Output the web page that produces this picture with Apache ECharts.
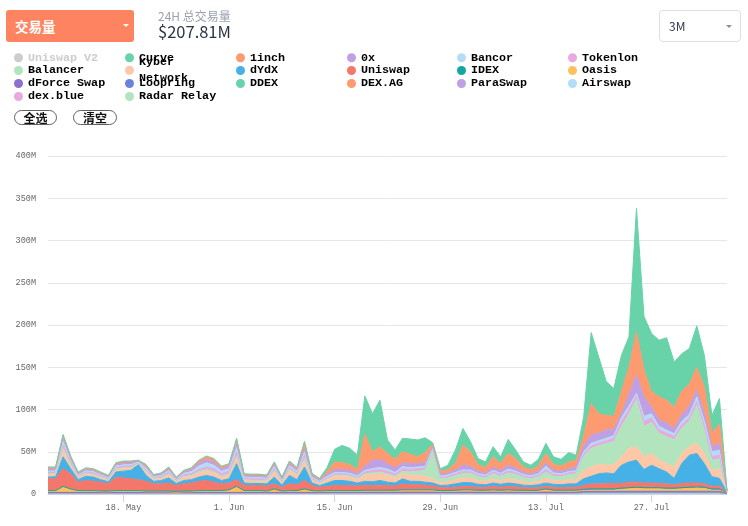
<!DOCTYPE html>
<html>
<head>
<meta charset="utf-8">
<script src="https://cdn.jsdelivr.net/npm/echarts@6/dist/echarts.min.js"></script>
<style>
  html, body { margin:0; padding:0; background:#fff; }
  #wrap { position:relative; width:748px; height:526px; overflow:hidden; font-family:"Noto Sans CJK SC","Noto Sans",sans-serif; }
  #chart { position:absolute; left:0; top:0; width:748px; height:526px; }
  .abs { position:absolute; }
  #volBtn { left:6px; top:10px; width:128px; height:32px; background:#fe8461; border-radius:3px; color:#fff; font-size:13.5px; font-weight:bold; line-height:32px; box-sizing:border-box; padding-left:9px; }
  #volBtn .caret { position:absolute; left:117px; top:14px; width:0; height:0; border-left:3px solid transparent; border-right:3px solid transparent; border-top:3px solid #fff; }
  #sub { left:158px; top:9px; font-size:12px; color:#9ba1af; line-height:14px; }
  #total { left:158px; top:22px; font-size:16.5px; color:#2c3345; line-height:18px; }
  #sel { left:659px; top:10px; width:82px; height:32px; border:1px solid #dcdfe6; border-radius:4px; box-sizing:border-box; }
  #sel .t { position:absolute; left:9px; top:0; line-height:30px; font-size:12px; color:#333a4d; }
  #sel .caret { position:absolute; left:66px; top:14px; width:0; height:0; border-left:3px solid transparent; border-right:3px solid transparent; border-top:3px solid #8a8f99; }
  .pill { top:110px; height:15px; border:1px solid #5a5f6a; border-radius:8px; box-sizing:border-box; font-size:12px; font-weight:bold; line-height:13px; text-align:center; color:#111; }
  #log { position:absolute; left:300px; top:200px; font-size:11px; color:red; }
</style>
</head>
<body>
<div id="wrap">
  <div id="chart"></div>
  <div id="volBtn" class="abs">交易量<span class="caret"></span></div>
  <div id="sub" class="abs">24H 总交易量</div>
  <div id="total" class="abs">$207.81M</div>
  <div id="sel" class="abs"><span class="t">3M</span><span class="caret"></span></div>
  <div class="abs pill" style="left:14px;width:43px;">全选</div>
  <div class="abs pill" style="left:73px;width:44px;">清空</div>
  <pre id="log"></pre>
</div>
<script>
// ---------- data ----------
const startDay = Date.UTC(2020, 4, 8);   // 8 May 2020, one point per day
const dayCount = 91;
const tickDates = ['2020-05-18', '2020-06-01', '2020-06-15', '2020-06-29', '2020-07-13', '2020-07-27'];
const yTickLabels = ['0', '50M', '100M', '150M', '200M', '250M', '300M', '350M', '400M'];

const seriesNames = ['Uniswap V2', 'Curve', '1inch', '0x', 'Bancor', 'Tokenlon', 'Balancer', 'Kyber Network', 'dYdX', 'Uniswap',
  'IDEX', 'Oasis', 'dForce Swap', 'Loopring', 'DDEX', 'DEX.AG', 'ParaSwap', 'Airswap', 'dex.blue', 'Radar Relay'];

// values in millions USD
const uniswapV2 = [];
const curve = [1, 1, 1.5, 1, 0.7, 0.7, 0.7, 0.7, 0.6, 0.7,
  0.8, 0.7, 0.4, 1, 0.5, 0.6, 0.8, 0.6, 0.6, 0.7,
  1, 1, 1, 0.8, 0.8, 1.5, 0.7, 0.7, 0.7, 0.7,
  1, 0.7, 1, 0.9, 1.5, 1, 0.9, 5, 15, 20.5,
  19, 17, 45, 45, 55, 16, 11, 16, 18, 20,
  17.5, 1.6, 3, 5, 16, 19.6, 12, 7, 7, 12,
  8, 16.6, 10, 6, 5.5, 8, 12, 9, 8, 11,
  6, 22, 84, 67, 40, 33, 43, 36, 146, 63,
  69, 67, 74, 53.5, 44, 42, 49, 37, 21, 30,
  0.3];
const oneInch = [1.5, 1.5, 3, 2, 1.3, 1.3, 1.3, 1.3, 0.9, 1.3,
  1.5, 1.5, 0.6, 1.5, 0.9, 1.1, 1.4, 0.9, 1.1, 1.5,
  2.5, 3, 3, 2.2, 2.2, 4.5, 1.5, 1.5, 1.5, 1.3,
  2, 1.3, 2, 1.6, 7, 1.9, 1.3, 3, 9, 8,
  7, 4.5, 38, 10, 15, 12, 10, 13, 11, 8,
  12, 3, 3.5, 4, 7.5, 24, 17, 8, 6, 12,
  8, 14, 11, 6, 4.5, 6, 11, 7, 6, 8,
  8, 12, 37, 23, 17, 15, 26, 32, 51, 32,
  18, 27, 27, 25, 28, 26, 27, 32, 16, 23,
  0.3];
const zeroX = [2.5, 2.3, 4, 2, 1.5, 1.5, 1.5, 1.5, 1.3, 2,
  2.2, 2, 1, 2, 1.3, 1.5, 2, 1.2, 1.8, 2.3,
  3.5, 4, 4, 3, 3, 5, 1.8, 1.8, 1.8, 1.8,
  2.5, 1.5, 2.5, 2, 4, 1.8, 1.3, 2.5, 3.5, 3.5,
  3.5, 3, 5, 10, 9.5, 6.5, 5.5, 4.5, 5, 4,
  4.5, 1.5, 2.5, 2.5, 3, 5.5, 4.5, 3, 2.5, 4,
  3.5, 4.5, 4, 3, 2.5, 3, 4, 3, 3, 3.5,
  4.5, 7, 10, 9, 10, 8, 5, 14, 22, 23,
  8, 8, 8.5, 6, 8, 10, 8, 9, 6, 8,
  0.2];
const bancor = [1, 1.2, 4, 2, 1, 1.5, 1.5, 1, 0.9, 1.5,
  1.5, 1.5, 0.7, 1.5, 1, 1.3, 1.8, 1, 1.7, 2.5,
  4, 5, 4, 3, 3, 5, 1.5, 1.5, 1.5, 1.4,
  2.5, 1.2, 2, 2, 4, 1.2, 1, 1.5, 1.5, 1.5,
  1.5, 1.5, 2, 2, 2.5, 2.5, 2, 2.5, 2, 2,
  2, 1, 1.5, 1.5, 1.5, 1.5, 1.5, 1.5, 1.5, 1.5,
  1.5, 2, 1.5, 1.5, 1.5, 2, 4, 2, 1.5, 1.5,
  1.5, 2.5, 3, 3, 3, 3, 4, 4, 3, 6,
  5, 4, 3.5, 3.5, 4, 4, 5, 6, 6, 6,
  0.2];
const tokenlon = [2, 1.7, 4, 3, 1.5, 1.5, 1.5, 1.5, 1.3, 1.8,
  2, 1.8, 1, 2.2, 1.3, 1.5, 2.2, 1.3, 2, 2,
  2.5, 3, 3.5, 3, 3, 5, 1.5, 1.5, 1.5, 1.3,
  2.5, 1.3, 2, 1.7, 4, 1.5, 1, 1.5, 1.5, 1.5,
  1.5, 1.5, 2, 3, 3, 3, 2.5, 3, 3, 3,
  2.5, 1.5, 1.5, 2, 2, 2.5, 2.5, 2, 2, 2.5,
  2, 2.5, 2.5, 2, 2, 2, 3, 2, 2, 2,
  2, 2.5, 3, 3, 3, 4, 6, 5, 4, 6,
  5, 4, 4, 4, 4, 4, 5, 4, 4, 4,
  0.2];
const balancer = [1, 0.8, 2, 1, 0.5, 0.5, 0.5, 0.5, 0.5, 0.7,
  0.5, 0.5, 0.3, 0.8, 0.5, 0.5, 0.8, 0.5, 0.8, 1,
  1.5, 2, 1.5, 1, 1, 2, 1, 1, 1, 1,
  1.5, 1, 1.5, 1.3, 2, 1, 1, 1, 1.5, 1.5,
  1.5, 1.5, 2, 2, 2, 2, 2, 3, 4, 5,
  7, 34, 4.5, 4.5, 5, 5.5, 5.5, 4.5, 4, 6,
  5, 6.5, 6, 5, 4.5, 5, 7, 5, 5, 6,
  7, 17, 22, 22, 26, 27, 36, 41, 56, 36,
  37, 32, 32, 32, 30, 30, 45, 28, 12, 12,
  0.5];
const kyberNetwork = [3, 3, 8, 4, 2.5, 3, 3, 2.5, 2, 3,
  3.5, 3, 1, 4, 2.5, 2.5, 4, 2, 4, 4,
  5, 5, 5, 4, 5, 7, 3, 3, 3, 3,
  6, 2.5, 6, 5, 8, 3, 2, 4, 5, 5,
  5, 4, 7, 8.5, 8, 8, 6, 6, 7, 7,
  7, 5, 3.5, 4, 5, 5.5, 5.5, 4.5, 4, 5,
  4.5, 5.5, 5, 4, 3.5, 4, 6, 4.5, 4.5, 5,
  5, 10, 11, 11, 9, 11, 10, 16, 16, 15,
  14, 10, 10, 13.5, 12, 10, 12, 12, 7.5, 11.5,
  0.5];
const dydx = [2, 2.5, 14, 6, 3, 5, 5, 3, 2.5, 6,
  8, 10, 18, 7, 3, 4, 6, 2.5, 4, 4,
  5, 6, 6, 4, 5, 19, 3, 2.5, 2.5, 2.5,
  8, 2.5, 10, 6, 16, 3, 2, 4, 6, 6,
  5, 3.5, 4.5, 4.5, 5.5, 4, 3.5, 6, 4, 4,
  3.5, 3.5, 2.5, 3, 4, 4.5, 4.5, 3.5, 3, 4,
  3.5, 4, 3.5, 3, 3, 3.5, 4, 3.5, 3.5, 4,
  4, 8, 9, 12, 12.5, 11.5, 21.5, 24, 26, 16,
  21, 17.5, 14, 7.5, 23.5, 33, 35, 24, 11.5, 9,
  0.5];
const uniswap = [14, 14, 21, 18, 10, 12, 11, 10.5, 8.5, 16,
  15, 14, 13, 11.5, 8.5, 8.5, 9.5, 7, 8.5, 9.5,
  11, 12, 10, 8, 8, 8, 6, 6, 6, 6,
  6, 4.5, 8, 7, 10, 6, 4.5, 5, 6, 6,
  6, 5.5, 6, 5.5, 6, 5.5, 5, 7, 6, 6,
  5.5, 4.5, 3.5, 3.5, 3.5, 4, 4, 3.5, 3.5, 4,
  3.5, 4, 4, 3, 3, 3, 3, 3.5, 3, 3.5,
  3.5, 4.5, 6, 6, 6.5, 6.5, 5.5, 6.5, 6, 5.5,
  5.5, 5, 5, 4, 5, 5, 4.5, 4, 3, 3.5,
  0.5];
const idex = [0.8, 0.8, 0.8, 0.8, 0.8, 0.8, 0.8, 0.8, 0.8, 0.8,
  0.8, 0.8, 0.8, 0.8, 0.8, 0.8, 0.8, 0.8, 0.8, 0.8,
  0.8, 0.8, 0.8, 0.8, 0.8, 0.8, 0.8, 0.8, 0.8, 0.8,
  0.8, 0.8, 0.8, 0.8, 0.8, 0.8, 0.8, 0.9, 0.9, 0.9,
  0.9, 0.9, 0.9, 0.9, 0.9, 0.9, 0.9, 0.9, 0.9, 0.9,
  0.9, 0.9, 0.9, 0.9, 0.9, 0.9, 0.9, 0.9, 0.9, 0.9,
  0.9, 0.9, 0.9, 0.9, 0.9, 0.9, 0.9, 0.9, 0.9, 0.9,
  0.9, 1.2, 1.2, 1.2, 1.2, 1.2, 1.2, 1.2, 1.2, 1.2,
  1.2, 1.2, 1.2, 1.2, 1.2, 1.2, 1.2, 1.2, 1.2, 1.2,
  0.1];
const oasis = [1.3, 1.3, 6.3, 3.3, 1.3, 1.3, 1.3, 0.8, 0.8, 1.3,
  1.3, 1.3, 1.3, 0.8, 0.8, 0.8, 0.8, 0.3, 0.8, 0.8,
  1.3, 1.3, 1.3, 1.3, 2.3, 6.3, 1.3, 1.3, 1.3, 0.8,
  3.3, 0.8, 1.3, 1.3, 3.3, 1.3, 0.8, 0.9, 0.9, 0.9,
  0.9, 0.9, 1.4, 1.4, 1.4, 1.4, 1.4, 1.9, 1.9, 1.9,
  1.9, 1.9, 0.9, 0.9, 1.4, 1.9, 1.9, 1.4, 1.4, 1.9,
  1.4, 1.9, 1.4, 1.4, 0.9, 1.4, 2.9, 1.4, 1.4, 1.4,
  1.4, 1.1, 1.6, 1.6, 1.6, 1.6, 2.6, 3.1, 3.6, 3.1,
  3.1, 3.1, 2.6, 2.6, 3.1, 3.6, 4.1, 3.6, 1.6, 1.6,
  0.1];
const dForceSwap = [0.2, 0.2, 0.2, 0.2, 0.2, 0.2, 0.2, 0.2, 0.2, 0.2,
  0.2, 0.2, 0.2, 0.2, 0.2, 0.2, 0.2, 0.2, 0.2, 0.2,
  0.2, 0.2, 0.2, 0.2, 0.2, 0.2, 0.2, 0.2, 0.2, 0.2,
  0.2, 0.2, 0.2, 0.2, 0.2, 0.2, 0.2, 0.4, 0.4, 0.4,
  0.4, 0.4, 0.4, 0.4, 0.4, 0.4, 0.4, 0.4, 0.4, 0.4,
  0.4, 0.4, 0.4, 0.4, 0.4, 0.4, 0.4, 0.4, 0.4, 0.4,
  0.4, 0.4, 0.4, 0.4, 0.4, 0.4, 0.4, 0.4, 0.4, 0.4,
  0.4, 0.8, 0.8, 0.8, 0.8, 0.8, 0.8, 0.8, 0.8, 0.8,
  0.8, 0.8, 0.8, 0.8, 0.8, 0.8, 0.8, 0.8, 0.8, 0.8,
  0.1];
const loopring = [0.3, 0.3, 0.3, 0.3, 0.3, 0.3, 0.3, 0.3, 0.3, 0.3,
  0.3, 0.3, 0.3, 0.3, 0.3, 0.3, 0.3, 0.3, 0.3, 0.3,
  0.3, 0.3, 0.3, 0.3, 0.3, 0.3, 0.3, 0.3, 0.3, 0.3,
  0.3, 0.3, 0.3, 0.3, 0.3, 0.3, 0.3, 0.3, 0.3, 0.3,
  0.3, 0.3, 0.3, 0.3, 0.3, 0.3, 0.3, 0.3, 0.3, 0.3,
  0.3, 0.3, 0.3, 0.3, 0.3, 0.3, 0.3, 0.3, 0.3, 0.3,
  0.3, 0.3, 0.3, 0.3, 0.3, 0.3, 0.3, 0.3, 0.3, 0.3,
  0.3, 0.4, 0.4, 0.4, 0.4, 0.4, 0.4, 0.4, 0.4, 0.4,
  0.4, 0.4, 0.4, 0.4, 0.4, 0.4, 0.4, 0.4, 0.4, 0.4,
  0.1];
const ddex = [0.3, 0.3, 0.3, 0.3, 0.3, 0.3, 0.3, 0.3, 0.3, 0.3,
  0.3, 0.3, 0.3, 0.3, 0.3, 0.3, 0.3, 0.3, 0.3, 0.3,
  0.3, 0.3, 0.3, 0.3, 0.3, 0.3, 0.3, 0.3, 0.3, 0.3,
  0.3, 0.3, 0.3, 0.3, 0.3, 0.3, 0.3, 0.3, 0.3, 0.3,
  0.3, 0.3, 0.3, 0.3, 0.3, 0.3, 0.3, 0.3, 0.3, 0.3,
  0.3, 0.3, 0.3, 0.3, 0.3, 0.3, 0.3, 0.3, 0.3, 0.3,
  0.3, 0.3, 0.3, 0.3, 0.3, 0.3, 0.3, 0.3, 0.3, 0.3,
  0.3, 0.3, 0.3, 0.3, 0.3, 0.3, 0.3, 0.3, 0.3, 0.3,
  0.3, 0.3, 0.3, 0.3, 0.3, 0.3, 0.3, 0.3, 0.3, 0.3,
  0.1];
const dexAg = [0.2, 0.2, 0.2, 0.2, 0.2, 0.2, 0.2, 0.2, 0.2, 0.2,
  0.2, 0.2, 0.2, 0.2, 0.2, 0.2, 0.2, 0.2, 0.2, 0.2,
  0.2, 0.2, 0.2, 0.2, 0.2, 0.2, 0.2, 0.2, 0.2, 0.2,
  0.2, 0.2, 0.2, 0.2, 0.2, 0.2, 0.2, 0.2, 0.2, 0.2,
  0.2, 0.2, 0.2, 0.2, 0.2, 0.2, 0.2, 0.2, 0.2, 0.2,
  0.2, 0.2, 0.2, 0.2, 0.2, 0.2, 0.2, 0.2, 0.2, 0.2,
  0.2, 0.2, 0.2, 0.2, 0.2, 0.2, 0.2, 0.2, 0.2, 0.2,
  0.2, 0.3, 0.3, 0.3, 0.3, 0.3, 0.3, 0.3, 0.3, 0.3,
  0.3, 0.3, 0.3, 0.3, 0.3, 0.3, 0.3, 0.3, 0.3, 0.3,
  0.1];
const paraSwap = [0.2, 0.2, 0.2, 0.2, 0.2, 0.2, 0.2, 0.2, 0.2, 0.2,
  0.2, 0.2, 0.2, 0.2, 0.2, 0.2, 0.2, 0.2, 0.2, 0.2,
  0.2, 0.2, 0.2, 0.2, 0.2, 0.2, 0.2, 0.2, 0.2, 0.2,
  0.2, 0.2, 0.2, 0.2, 0.2, 0.2, 0.2, 0.3, 0.3, 0.3,
  0.3, 0.3, 0.3, 0.3, 0.3, 0.3, 0.3, 0.3, 0.3, 0.3,
  0.3, 0.3, 0.3, 0.3, 0.3, 0.3, 0.3, 0.3, 0.3, 0.3,
  0.3, 0.3, 0.3, 0.3, 0.3, 0.3, 0.3, 0.3, 0.3, 0.3,
  0.3, 0.5, 0.5, 0.5, 0.5, 0.5, 0.5, 0.5, 0.5, 0.5,
  0.5, 0.5, 0.5, 0.5, 0.5, 0.5, 0.5, 0.5, 0.5, 0.5,
  0.1];
const airswap = [0.3, 0.3, 0.3, 0.3, 0.3, 0.3, 0.3, 0.3, 0.3, 0.3,
  0.3, 0.3, 0.3, 0.3, 0.3, 0.3, 0.3, 0.3, 0.3, 0.3,
  0.3, 0.3, 0.3, 0.3, 0.3, 0.3, 0.3, 0.3, 0.3, 0.3,
  0.3, 0.3, 0.3, 0.3, 0.3, 0.3, 0.3, 0.3, 0.3, 0.3,
  0.3, 0.3, 0.3, 0.3, 0.3, 0.3, 0.3, 0.3, 0.3, 0.3,
  0.3, 0.3, 0.3, 0.3, 0.3, 0.3, 0.3, 0.3, 0.3, 0.3,
  0.3, 0.3, 0.3, 0.3, 0.3, 0.3, 0.3, 0.3, 0.3, 0.3,
  0.3, 0.3, 0.3, 0.3, 0.3, 0.3, 0.3, 0.3, 0.3, 0.3,
  0.3, 0.3, 0.3, 0.3, 0.3, 0.3, 0.3, 0.3, 0.3, 0.3,
  0.1];
const dexBlue = [0.2, 0.2, 0.2, 0.2, 0.2, 0.2, 0.2, 0.2, 0.2, 0.2,
  0.2, 0.2, 0.2, 0.2, 0.2, 0.2, 0.2, 0.2, 0.2, 0.2,
  0.2, 0.2, 0.2, 0.2, 0.2, 0.2, 0.2, 0.2, 0.2, 0.2,
  0.2, 0.2, 0.2, 0.2, 0.2, 0.2, 0.2, 0.2, 0.2, 0.2,
  0.2, 0.2, 0.2, 0.2, 0.2, 0.2, 0.2, 0.2, 0.2, 0.2,
  0.2, 0.2, 0.2, 0.2, 0.2, 0.2, 0.2, 0.2, 0.2, 0.2,
  0.2, 0.2, 0.2, 0.2, 0.2, 0.2, 0.2, 0.2, 0.2, 0.2,
  0.2, 0.3, 0.3, 0.3, 0.3, 0.3, 0.3, 0.3, 0.3, 0.3,
  0.3, 0.3, 0.3, 0.3, 0.3, 0.3, 0.3, 0.3, 0.3, 0.3,
  0.1];
const radarRelay = [0.2, 0.2, 0.2, 0.2, 0.2, 0.2, 0.2, 0.2, 0.2, 0.2,
  0.2, 0.2, 0.2, 0.2, 0.2, 0.2, 0.2, 0.2, 0.2, 0.2,
  0.2, 0.2, 0.2, 0.2, 0.2, 0.2, 0.2, 0.2, 0.2, 0.2,
  0.2, 0.2, 0.2, 0.2, 0.2, 0.2, 0.2, 0.2, 0.2, 0.2,
  0.2, 0.2, 0.2, 0.2, 0.2, 0.2, 0.2, 0.2, 0.2, 0.2,
  0.2, 0.2, 0.2, 0.2, 0.2, 0.2, 0.2, 0.2, 0.2, 0.2,
  0.2, 0.2, 0.2, 0.2, 0.2, 0.2, 0.2, 0.2, 0.2, 0.2,
  0.2, 0.3, 0.3, 0.3, 0.3, 0.3, 0.3, 0.3, 0.3, 0.3,
  0.3, 0.3, 0.3, 0.3, 0.3, 0.3, 0.3, 0.3, 0.3, 0.3,
  0.1];

const seriesValues = [uniswapV2, curve, oneInch, zeroX, bancor, tokenlon, balancer, kyberNetwork, dydx, uniswap,
  idex, oasis, dForceSwap, loopring, ddex, dexAg, paraSwap, airswap, dexBlue, radarRelay];

// ---------- styling ----------
const palette = ['#6b82dc', '#68d2a9', '#fd9a6f', '#bfa0e2', '#b3dcf8', '#e8a8e0', '#b2e5be', '#fec8a8', '#45b1e6',
  '#f4776c', '#12a6a2', '#fec15c', '#8d6fd0'];

const pad = n => (n < 10 ? '0' : '') + n;
const categories = [];
for (let i = 0; i < dayCount; i++) {
  const d = new Date(startDay + i * 86400000);
  categories.push(d.getUTCFullYear() + '-' + pad(d.getUTCMonth() + 1) + '-' + pad(d.getUTCDate()));
}
const monthNames = ['Jan','Feb','Mar','Apr','May','Jun','Jul','Aug','Sep','Oct','Nov','Dec'];
const isTick = (idx, val) => tickDates.indexOf(val) >= 0;

const series = [];
for (let k = seriesNames.length - 1; k >= 0; k--) {
  const c = palette[k % palette.length];
  series.push({
    name: seriesNames[k],
    type: 'line',
    stack: 'total',
    symbol: 'none',
    showSymbol: false,
    itemStyle: { color: c },
    lineStyle: { width: 1, color: c },
    areaStyle: { color: c, opacity: 1 },
    data: seriesValues[k].slice()
  });
}

const colX = [14, 125, 236, 347, 457, 568];
const rowCenter = [57.3, 70, 83, 96];
const legends = seriesNames.map((name, k) => {
  const col = k % 6, row = Math.floor(k / 6);
  const isKyber = name === 'Kyber Network';
  const lg = {
    data: [name],
    left: colX[col],
    top: isKyber ? rowCenter[row] - 15.3 : rowCenter[row] - 6,
    padding: 0,
    icon: 'circle',
    itemWidth: 9,
    itemHeight: 9,
    itemGap: 0,
    inactiveColor: '#cccccc',
    textStyle: { fontFamily: 'Liberation Mono', fontWeight: 'bold', fontSize: 11.7, color: '#000', lineHeight: isKyber ? 15.6 : 13 },
    formatter: n => (n === 'Kyber Network' ? 'Kyber\nNetwork' : n)
  };
  if (name === 'Uniswap V2') lg.selected = { 'Uniswap V2': false };
  return lg;
});

try {
  const chart = echarts.init(document.getElementById('chart'), null, { renderer: 'canvas' });
  chart.setOption({
    animation: false,
    color: palette,
    legend: legends,
    grid: { left: 48, right: 21, top: 156, bottom: 32, containLabel: false },
    xAxis: {
      type: 'category',
      data: categories,
      boundaryGap: false,
      axisLine: { show: true, lineStyle: { color: '#ccd6eb', width: 1 } },
      axisTick: { show: true, length: 8, interval: isTick, lineStyle: { color: '#ccd6eb' } },
      axisLabel: {
        interval: isTick,
        color: '#666',
        fontFamily: 'Liberation Mono',
        fontSize: 8.5,
        margin: 9,
        formatter: v => { const p = v.split('-'); return parseInt(p[2], 10) + '. ' + monthNames[parseInt(p[1], 10) - 1]; }
      },
      splitLine: { show: false }
    },
    yAxis: {
      type: 'value',
      min: 0,
      max: 400,
      interval: 50,
      axisLine: { show: false },
      axisTick: { show: false },
      axisLabel: {
        color: '#666',
        fontFamily: 'Liberation Mono',
        fontSize: 8.5,
        margin: 12,
        formatter: v => yTickLabels[Math.round(v / 50)]
      },
      splitLine: { lineStyle: { color: '#e6e6e6', width: 1 } }
    },
    series: series
  });
} catch (e) {
  document.getElementById('log').textContent = String(e && e.stack || e);
}
</script>
</body>
</html>
